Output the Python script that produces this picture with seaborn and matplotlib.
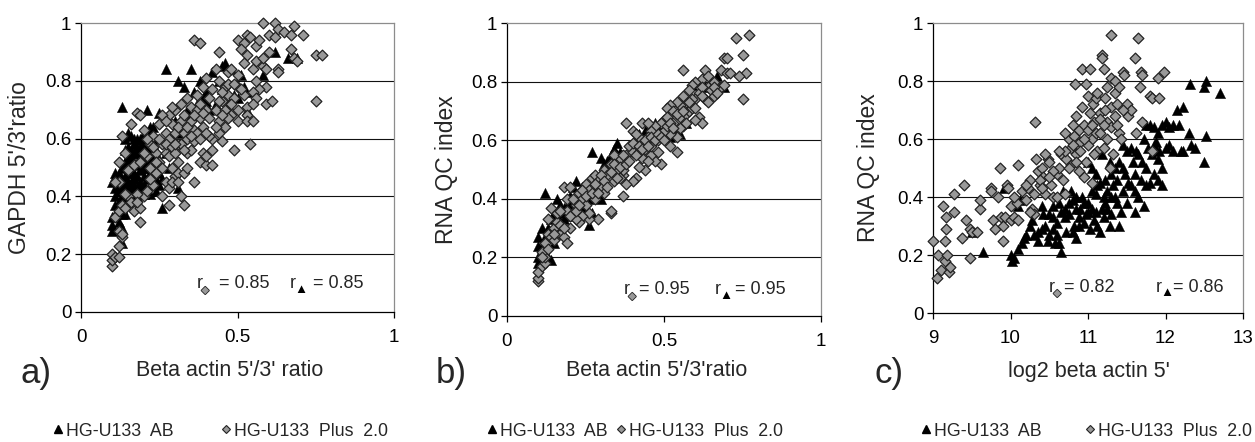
import matplotlib
matplotlib.use("Agg")
import matplotlib.pyplot as plt
import matplotlib.patheffects as pe
from matplotlib.lines import Line2D
import pandas as pd
import seaborn as sns

# --- data (x, y) ---
# a) Beta actin 5'/3' ratio vs GAPDH 5'/3' ratio
a_plus = [
    (0.10, 0.16), (0.10, 0.18), (0.10, 0.20), (0.11, 0.19), (0.12, 0.19), (0.12, 0.23), (0.13, 0.26),
    (0.12, 0.28), (0.13, 0.27), (0.11, 0.33), (0.12, 0.35), (0.13, 0.37), (0.14, 0.36), (0.15, 0.40),
    (0.14, 0.41), (0.16, 0.38), (0.17, 0.35), (0.19, 0.31), (0.19, 0.36), (0.20, 0.40), (0.18, 0.41),
    (0.21, 0.42), (0.12, 0.45), (0.11, 0.45), (0.12, 0.52), (0.13, 0.61), (0.14, 0.55), (0.16, 0.65),
    (0.18, 0.69), (0.19, 0.68), (0.15, 0.49), (0.17, 0.51), (0.19, 0.52),
    (0.21, 0.54), (0.22, 0.50), (0.23, 0.44), (0.24, 0.48), (0.22, 0.58), (0.23, 0.61),
    (0.24, 0.55), (0.25, 0.52), (0.26, 0.58), (0.27, 0.55), (0.27, 0.62), (0.28, 0.60), (0.28, 0.68),
    (0.29, 0.65), (0.30, 0.62), (0.30, 0.70), (0.31, 0.58), (0.32, 0.66), (0.32, 0.72), (0.33, 0.62),
    (0.33, 0.68), (0.34, 0.74), (0.34, 0.60), (0.35, 0.66), (0.35, 0.71), (0.36, 0.63), (0.37, 0.70),
    (0.37, 0.75), (0.38, 0.67), (0.38, 0.72), (0.39, 0.78), (0.39, 0.64), (0.40, 0.70), (0.40, 0.81),
    (0.41, 0.74), (0.41, 0.67), (0.42, 0.77), (0.43, 0.84), (0.43, 0.70), (0.44, 0.80), (0.44, 0.66),
    (0.45, 0.73), (0.46, 0.78), (0.46, 0.70), (0.47, 0.83), (0.47, 0.75), (0.48, 0.68), (0.26, 0.40),
    (0.27, 0.45), (0.28, 0.37), (0.30, 0.47), (0.31, 0.48), (0.29, 0.50), (0.31, 0.52), (0.32, 0.40),
    (0.33, 0.37), (0.33, 0.48), (0.34, 0.55), (0.36, 0.45), (0.36, 0.59), (0.37, 0.62), (0.38, 0.52),
    (0.39, 0.55), (0.40, 0.51), (0.40, 0.54), (0.42, 0.51), (0.42, 0.56), (0.42, 0.60), (0.44, 0.62),
    (0.45, 0.59), (0.46, 0.64), (0.47, 0.67), (0.45, 0.68), (0.49, 0.56), (0.50, 0.66), (0.36, 0.94),
    (0.38, 0.93), (0.44, 0.90), (0.48, 0.84), (0.50, 0.82), (0.47, 0.79), (0.50, 0.78), (0.49, 0.74),
    (0.52, 0.75), (0.50, 0.70), (0.53, 0.71), (0.53, 0.68), (0.53, 0.66), (0.54, 0.58), (0.50, 0.94),
    (0.52, 0.93), (0.51, 0.91), (0.53, 0.89), (0.52, 0.86), (0.55, 0.84), (0.58, 0.85), (0.59, 0.84),
    (0.56, 0.87), (0.53, 0.96), (0.54, 0.95), (0.56, 0.92), (0.57, 0.94), (0.58, 1.00), (0.60, 0.96),
    (0.62, 0.95), (0.62, 1.00), (0.63, 0.98), (0.65, 0.97), (0.68, 0.99), (0.67, 0.96), (0.71, 0.96),
    (0.67, 0.91), (0.68, 0.88), (0.69, 0.87), (0.63, 0.84), (0.63, 0.83), (0.59, 0.78), (0.56, 0.80),
    (0.57, 0.77), (0.55, 0.76), (0.56, 0.74), (0.55, 0.72), (0.59, 0.72), (0.61, 0.73), (0.75, 0.73),
    (0.75, 0.89), (0.77, 0.89), (0.60, 0.90), (0.58, 0.88), (0.55, 0.66), (0.21, 0.60), (0.20, 0.63),
    (0.25, 0.65), (0.26, 0.68), (0.29, 0.71), (0.31, 0.64), (0.35, 0.56), (0.41, 0.61),
    (0.22, 0.46), (0.24, 0.52), (0.26, 0.50), (0.27, 0.58), (0.28, 0.54), (0.29, 0.57), (0.30, 0.55),
    (0.32, 0.58), (0.33, 0.56), (0.34, 0.64), (0.36, 0.68), (0.38, 0.60), (0.39, 0.69), (0.40, 0.62),
    (0.43, 0.64), (0.44, 0.73), (0.45, 0.76), (0.48, 0.72), (0.49, 0.79), (0.51, 0.77),
    (0.20, 0.55), (0.23, 0.57), (0.25, 0.60), (0.27, 0.66), (0.18, 0.38),
    (0.30, 0.58), (0.35, 0.61), (0.28, 0.43), (0.29, 0.45), (0.31, 0.45), (0.34, 0.50),
]
a_ab = [
    (0.13, 0.71), (0.27, 0.84), (0.35, 0.84), (0.31, 0.80), (0.33, 0.78), (0.38, 0.80), (0.36, 0.76),
    (0.40, 0.76), (0.42, 0.83), (0.45, 0.85), (0.46, 0.86), (0.48, 0.84), (0.51, 0.82), (0.62, 0.90),
    (0.66, 0.88), (0.69, 0.88), (0.58, 0.82), (0.49, 0.75), (0.50, 0.74), (0.53, 0.70), (0.45, 0.77),
    (0.43, 0.72), (0.40, 0.73), (0.46, 0.69), (0.41, 0.70), (0.37, 0.72), (0.34, 0.70), (0.30, 0.66),
    (0.25, 0.69), (0.21, 0.70), (0.23, 0.64), (0.22, 0.62), (0.15, 0.62), (0.14, 0.60), (0.17, 0.58),
    (0.10, 0.45), (0.11, 0.48), (0.10, 0.33), (0.10, 0.30), (0.10, 0.28), (0.13, 0.29), (0.13, 0.24),
    (0.14, 0.34), (0.13, 0.34), (0.26, 0.36), (0.31, 0.43), (0.15, 0.45), (0.16, 0.50), (0.17, 0.55),
    (0.18, 0.47), (0.19, 0.52), (0.20, 0.44), (0.21, 0.50), (0.22, 0.56), (0.23, 0.47), (0.24, 0.42),
    (0.12, 0.42), (0.13, 0.40), (0.14, 0.44), (0.16, 0.41), (0.18, 0.40), (0.20, 0.58), (0.22, 0.52),
    (0.19, 0.43), (0.17, 0.48), (0.15, 0.52), (0.25, 0.44), (0.26, 0.46), (0.28, 0.50), (0.12, 0.38),
    (0.11, 0.40), (0.14, 0.38), (0.16, 0.56), (0.18, 0.60), (0.19, 0.57), (0.21, 0.46), (0.23, 0.53),
    (0.24, 0.60), (0.20, 0.50), (0.17, 0.44),
    (0.14, 0.47), (0.15, 0.40), (0.16, 0.45), (0.17, 0.52), (0.18, 0.55), (0.19, 0.49), (0.20, 0.53),
    (0.21, 0.57), (0.22, 0.44), (0.12, 0.35), (0.11, 0.37), (0.13, 0.46), (0.15, 0.57), (0.16, 0.61),
    (0.18, 0.51), (0.20, 0.62), (0.22, 0.64), (0.24, 0.50), (0.27, 0.55), (0.29, 0.60), (0.32, 0.62),
    (0.35, 0.68), (0.39, 0.74), (0.44, 0.80), (0.47, 0.72), (0.52, 0.78), (0.55, 0.76),
    (0.12, 0.44), (0.12, 0.48), (0.13, 0.50), (0.13, 0.43), (0.14, 0.52), (0.14, 0.56), (0.15, 0.48),
    (0.15, 0.54), (0.15, 0.38), (0.16, 0.43), (0.16, 0.53), (0.17, 0.46), (0.17, 0.40), (0.17, 0.60),
    (0.18, 0.43), (0.18, 0.57), (0.19, 0.45), (0.19, 0.54), (0.19, 0.60), (0.20, 0.47), (0.20, 0.41),
    (0.21, 0.52), (0.21, 0.59), (0.22, 0.48), (0.22, 0.41), (0.23, 0.50), (0.23, 0.58), (0.24, 0.46),
    (0.24, 0.55), (0.25, 0.48), (0.13, 0.36), (0.11, 0.43), (0.12, 0.31), (0.11, 0.34),
]

# b) Beta actin 5'/3' ratio vs RNA QC index
b_plus = [
    (0.77, 0.96), (0.73, 0.95), (0.75, 0.89), (0.69, 0.88), (0.70, 0.88), (0.76, 0.83), (0.74, 0.82),
    (0.75, 0.74), (0.68, 0.84), (0.70, 0.83), (0.71, 0.83), (0.68, 0.78), (0.69, 0.79), (0.56, 0.84),
    (0.63, 0.84), (0.62, 0.81), (0.64, 0.78), (0.65, 0.77), (0.60, 0.80), (0.59, 0.79), (0.61, 0.76),
    (0.60, 0.74), (0.63, 0.74), (0.58, 0.77), (0.57, 0.73), (0.56, 0.75), (0.55, 0.72), (0.54, 0.73),
    (0.52, 0.72), (0.51, 0.71), (0.53, 0.70), (0.55, 0.68), (0.57, 0.69), (0.58, 0.70), (0.59, 0.71),
    (0.61, 0.68), (0.62, 0.66), (0.60, 0.67), (0.56, 0.65), (0.55, 0.64), (0.54, 0.56), (0.54, 0.61),
    (0.52, 0.62), (0.50, 0.63), (0.50, 0.67), (0.49, 0.66), (0.47, 0.65), (0.46, 0.63), (0.45, 0.61),
    (0.43, 0.60), (0.42, 0.61), (0.41, 0.58), (0.49, 0.52), (0.47, 0.53), (0.46, 0.55), (0.43, 0.54),
    (0.44, 0.50), (0.42, 0.51), (0.41, 0.47), (0.40, 0.46), (0.38, 0.45), (0.37, 0.48), (0.37, 0.50),
    (0.38, 0.66), (0.40, 0.63), (0.37, 0.41), (0.33, 0.35), (0.33, 0.36), (0.29, 0.33), (0.26, 0.33),
    (0.26, 0.35), (0.24, 0.34), (0.23, 0.32), (0.10, 0.12), (0.10, 0.13), (0.10, 0.15), (0.11, 0.17),
    (0.12, 0.18), (0.12, 0.20), (0.11, 0.22), (0.12, 0.25), (0.13, 0.28), (0.14, 0.27), (0.15, 0.30),
    (0.16, 0.32), (0.17, 0.28), (0.18, 0.27), (0.19, 0.25), (0.13, 0.33), (0.14, 0.37), (0.18, 0.44),
    (0.20, 0.44), (0.19, 0.36), (0.20, 0.30), (0.21, 0.35), (0.22, 0.38), (0.23, 0.42), (0.24, 0.40),
    (0.25, 0.45), (0.26, 0.43), (0.27, 0.47), (0.28, 0.48), (0.29, 0.46), (0.30, 0.44), (0.31, 0.50),
    (0.32, 0.48), (0.33, 0.52), (0.34, 0.46), (0.35, 0.50), (0.36, 0.54), (0.34, 0.55), (0.38, 0.55),
    (0.39, 0.58), (0.40, 0.56), (0.42, 0.56), (0.44, 0.57), (0.46, 0.58), (0.48, 0.60), (0.51, 0.65),
    (0.53, 0.66), (0.57, 0.66), (0.64, 0.82), (0.66, 0.80), (0.62, 0.78), (0.66, 0.75), (0.48, 0.56),
    (0.45, 0.53), (0.36, 0.47), (0.31, 0.42), (0.28, 0.40), (0.25, 0.38), (0.22, 0.33), (0.17, 0.31),
    (0.15, 0.26), (0.52, 0.58), (0.59, 0.74),
    (0.11, 0.20), (0.13, 0.23), (0.15, 0.28), (0.16, 0.35), (0.17, 0.36), (0.18, 0.30), (0.19, 0.40),
    (0.20, 0.34), (0.21, 0.40), (0.22, 0.36), (0.23, 0.38), (0.24, 0.43), (0.25, 0.41), (0.27, 0.42),
    (0.28, 0.45), (0.29, 0.42), (0.30, 0.48), (0.31, 0.46), (0.32, 0.44), (0.33, 0.49), (0.34, 0.52),
    (0.35, 0.47), (0.36, 0.51), (0.37, 0.55), (0.38, 0.52), (0.39, 0.53), (0.40, 0.59), (0.41, 0.55),
    (0.42, 0.58), (0.43, 0.57), (0.44, 0.60), (0.45, 0.58), (0.46, 0.61), (0.47, 0.60), (0.48, 0.62),
    (0.49, 0.61), (0.50, 0.60), (0.51, 0.68), (0.52, 0.66), (0.53, 0.64), (0.54, 0.69), (0.56, 0.70),
    (0.58, 0.73), (0.60, 0.71), (0.62, 0.75), (0.64, 0.73), (0.66, 0.78), (0.67, 0.76), (0.41, 0.62),
    (0.43, 0.66), (0.45, 0.66),
]
b_ab = [
    (0.12, 0.42), (0.27, 0.56), (0.34, 0.57), (0.35, 0.59), (0.30, 0.54), (0.32, 0.53), (0.33, 0.55),
    (0.22, 0.46), (0.21, 0.44), (0.20, 0.41), (0.16, 0.40), (0.18, 0.37), (0.15, 0.35), (0.14, 0.33),
    (0.13, 0.30), (0.12, 0.27), (0.11, 0.30), (0.10, 0.27), (0.10, 0.24), (0.10, 0.20), (0.10, 0.18),
    (0.13, 0.20), (0.14, 0.19), (0.15, 0.25), (0.16, 0.29), (0.17, 0.32), (0.19, 0.34), (0.21, 0.36),
    (0.22, 0.38), (0.23, 0.34), (0.24, 0.36), (0.26, 0.40), (0.27, 0.35), (0.26, 0.31), (0.30, 0.40),
    (0.28, 0.42), (0.45, 0.64), (0.44, 0.63), (0.47, 0.66), (0.48, 0.64), (0.50, 0.64), (0.51, 0.62),
    (0.52, 0.61), (0.46, 0.60), (0.61, 0.80), (0.59, 0.79), (0.65, 0.80), (0.69, 0.78), (0.61, 0.76),
    (0.18, 0.33), (0.20, 0.37), (0.24, 0.44), (0.29, 0.47), (0.31, 0.52),
    (0.11, 0.24), (0.12, 0.22), (0.14, 0.28), (0.16, 0.34), (0.17, 0.38), (0.18, 0.35), (0.19, 0.38),
    (0.20, 0.38), (0.21, 0.40), (0.23, 0.41), (0.25, 0.37), (0.35, 0.55), (0.36, 0.56), (0.33, 0.51),
    (0.42, 0.62), (0.49, 0.66), (0.53, 0.64), (0.55, 0.62), (0.57, 0.66), (0.63, 0.78), (0.67, 0.82),
]

# c) log2 beta actin 5' vs RNA QC index
c_plus = [
    (9.00, 0.25), (9.05, 0.12), (9.07, 0.20), (9.10, 0.15), (9.13, 0.37), (9.15, 0.25), (9.17, 0.33),
    (9.17, 0.29), (9.15, 0.18), (9.18, 0.20), (9.20, 0.14), (9.22, 0.16), (9.27, 0.41), (9.27, 0.35),
    (9.40, 0.44), (9.42, 0.32), (9.38, 0.26), (9.48, 0.29), (9.50, 0.28), (9.48, 0.19), (9.57, 0.28),
    (9.60, 0.36), (9.60, 0.39), (9.75, 0.43), (9.75, 0.42), (9.78, 0.32), (9.80, 0.29), (9.84, 0.40),
    (9.87, 0.50), (9.88, 0.33), (9.90, 0.30), (9.90, 0.25), (9.93, 0.33), (9.95, 0.44), (9.97, 0.43),
    (10.00, 0.37), (10.00, 0.32), (10.05, 0.33), (10.08, 0.38), (10.10, 0.51), (10.15, 0.42),
    (10.20, 0.39), (10.22, 0.43), (10.25, 0.46), (10.28, 0.36), (10.30, 0.34), (10.33, 0.53),
    (10.32, 0.66), (10.35, 0.49), (10.38, 0.44), (10.40, 0.50), (10.42, 0.47), (10.45, 0.41),
    (10.48, 0.53), (10.50, 0.52), (10.55, 0.40), (10.60, 0.48), (10.62, 0.50), (10.65, 0.55),
    (10.68, 0.46), (10.70, 0.41), (10.72, 0.53), (10.75, 0.60), (10.78, 0.57), (10.80, 0.65),
    (10.82, 0.61), (10.85, 0.55), (10.88, 0.63), (10.90, 0.59), (10.92, 0.71), (10.95, 0.65),
    (10.83, 0.79), (10.92, 0.84), (10.97, 0.79), (11.02, 0.84), (11.00, 0.75), (11.05, 0.60),
    (11.07, 0.72), (11.08, 0.66), (11.10, 0.74), (11.12, 0.76), (11.15, 0.69), (11.18, 0.89),
    (11.18, 0.88), (11.20, 0.84), (11.22, 0.74), (11.25, 0.66), (11.30, 0.81), (11.30, 0.96),
    (11.30, 0.71), (11.35, 0.76), (11.35, 0.80), (11.38, 0.72), (11.40, 0.78), (11.40, 0.62),
    (11.45, 0.83), (11.47, 0.82), (11.50, 0.72), (11.52, 0.68), (11.55, 0.70), (11.60, 0.88),
    (11.62, 0.62), (11.65, 0.95), (11.67, 0.78), (11.68, 0.83), (11.70, 0.82), (11.80, 0.75),
    (11.82, 0.74), (11.90, 0.81), (11.92, 0.74), (11.98, 0.83), (11.70, 0.66), (11.82, 0.56),
    (11.10, 0.62), (11.00, 0.58), (10.95, 0.47), (11.05, 0.45), (10.98, 0.52), (11.12, 0.56),
    (11.20, 0.57), (11.25, 0.60), (11.30, 0.64), (11.42, 0.60), (10.60, 0.40), (10.52, 0.44),
    (10.30, 0.41), (10.25, 0.35), (10.10, 0.32), (10.05, 0.40), (10.38, 0.46), (11.28, 0.50),
    (11.32, 0.55), (10.20, 0.44), (10.45, 0.55), (10.55, 0.49), (10.70, 0.56), (10.85, 0.68),
    (11.02, 0.69), (11.15, 0.67), (11.22, 0.70), (10.88, 0.49), (10.78, 0.51),
    (10.90, 0.56), (10.95, 0.60), (11.00, 0.63), (11.05, 0.65), (11.08, 0.55), (11.15, 0.62),
    (11.20, 0.65), (10.85, 0.52), (10.75, 0.50), (10.80, 0.58), (10.70, 0.62), (10.62, 0.56),
    (10.50, 0.47), (10.40, 0.43), (11.25, 0.78), (11.35, 0.68), (11.45, 0.70), (11.38, 0.65),
]
c_ab = [
    (12.70, 0.76), (12.52, 0.80), (12.50, 0.78), (12.32, 0.79), (12.22, 0.71), (12.15, 0.70),
    (12.52, 0.61), (12.50, 0.52), (12.30, 0.62), (12.33, 0.58), (12.38, 0.57), (12.20, 0.56),
    (12.10, 0.56), (12.22, 0.56), (12.10, 0.65), (12.18, 0.65), (12.00, 0.66), (12.05, 0.64),
    (11.95, 0.65), (11.90, 0.62), (11.85, 0.64), (11.80, 0.65), (11.75, 0.65), (11.72, 0.60),
    (11.78, 0.57), (11.82, 0.55), (11.90, 0.53), (11.95, 0.50), (11.85, 0.48), (11.80, 0.45),
    (11.75, 0.44), (11.72, 0.37), (11.65, 0.40), (11.60, 0.48), (11.58, 0.52), (11.50, 0.56),
    (11.45, 0.58), (11.52, 0.45), (11.45, 0.42), (11.42, 0.35), (11.38, 0.38), (11.35, 0.50),
    (11.30, 0.48), (11.28, 0.52), (11.25, 0.42), (11.20, 0.40), (11.15, 0.45), (11.10, 0.48),
    (11.05, 0.50), (11.00, 0.52), (11.18, 0.55), (11.20, 0.33), (11.28, 0.30), (11.30, 0.34),
    (11.15, 0.28), (11.10, 0.35), (11.00, 0.38), (11.05, 0.36), (10.98, 0.34), (10.92, 0.40),
    (10.88, 0.33), (10.85, 0.36), (10.82, 0.30), (10.78, 0.42), (10.75, 0.38), (10.70, 0.33),
    (10.65, 0.35), (10.60, 0.31), (10.60, 0.27), (10.55, 0.29), (10.50, 0.27), (10.48, 0.25),
    (10.45, 0.30), (10.42, 0.34), (10.35, 0.28), (10.30, 0.27), (10.28, 0.32), (10.20, 0.27),
    (10.15, 0.24), (10.18, 0.26), (10.10, 0.22), (10.05, 0.19), (10.00, 0.20), (10.02, 0.18),
    (10.65, 0.21), (10.62, 0.24), (10.80, 0.28), (10.85, 0.26), (9.65, 0.21), (9.50, 0.28),
    (9.92, 0.43), (10.10, 0.37), (10.12, 0.39), (10.40, 0.37), (10.50, 0.34), (10.55, 0.33),
    (10.68, 0.42), (11.12, 0.30), (11.22, 0.38), (11.35, 0.40), (11.40, 0.30), (11.50, 0.38),
    (11.60, 0.35), (11.55, 0.57), (11.65, 0.55), (11.70, 0.52), (11.88, 0.59), (12.00, 0.57),
    (11.95, 0.44), (11.90, 0.46),
    (10.55, 0.37), (10.62, 0.38), (10.70, 0.36), (10.75, 0.34), (10.80, 0.39), (10.85, 0.40),
    (10.90, 0.36), (10.95, 0.38), (11.00, 0.35), (11.05, 0.42), (11.10, 0.41), (11.12, 0.44),
    (11.18, 0.36), (11.22, 0.46), (11.25, 0.36), (11.30, 0.40), (11.32, 0.44), (11.38, 0.46),
    (11.40, 0.52), (11.45, 0.50), (11.48, 0.48), (11.55, 0.44), (11.60, 0.42), (11.62, 0.56),
    (11.68, 0.46), (11.75, 0.50), (11.85, 0.58), (11.92, 0.56), (12.05, 0.58), (10.88, 0.30),
    (10.95, 0.31), (10.72, 0.28), (10.40, 0.29), (10.25, 0.30), (10.58, 0.24), (10.35, 0.25),
    (11.08, 0.32), (11.02, 0.29),
]

panel_letters = ["a)", "b)", "c)"]
x_labels = ["Beta actin 5'/3' ratio", "Beta actin 5'/3'ratio", "log2 beta actin 5'"]
y_labels = ["GAPDH 5'/3'ratio", "RNA QC index", "RNA QC index"]
x_ticks = [[0, 0.5, 1], [0, 0.5, 1], [9, 10, 11, 12, 13]]
x_ticklabels = [["0", "0.5", "1"], ["0", "0.5", "1"], ["9", "10", "11", "12", "13"]]
y_ticks = [0, 0.2, 0.4, 0.6, 0.8, 1]
y_ticklabels = ["0", "0.2", "0.4", "0.6", "0.8", "1"]
r_plus = ["0.85", "0.95", "0.82"]
r_ab = ["0.85", "0.95", "0.86"]
series_names = ["HG-U133  AB", "HG-U133  Plus  2.0"]

W, H = 1255, 442
sns.set_theme(style="ticks")
plt.rcParams["font.family"] = ["Liberation Sans", "DejaVu Sans"]

fig = plt.figure(figsize=(W / 100, H / 100), dpi=100)

# axes boxes in pixels: left, top, right, bottom
boxes = [(81, 23, 394, 312), (507, 23, 821, 316), (933, 23, 1243, 313)]
ylabel_x = [20, 447, 868]
letter_x = [21, 436, 874]
xlabel_cx = [230, 657, 1089]
legend_tri_x = [58, 492, 926]
legend_dia_x = [226, 621, 1090]
r_pos = [(197, 219, 290, 313, 284), (624, 639, 715, 735, 290), (1049, 1064, 1156, 1173, 287)]

def fx(x):
    return x / W

def fy(y):
    return 1 - y / H

GRAY = "#999999"
EDGE = "#222222"
tri_kw = dict(marker="^", s=55, color="black", edgecolor="black", linewidth=0.3, clip_on=False)
dia_kw = dict(marker="D", s=30, color=GRAY, edgecolor=EDGE, linewidth=0.9, clip_on=False)

data = [(a_ab, a_plus), (b_ab, b_plus), (c_ab, c_plus)]
for i, (ab, plus) in enumerate(data):
    l, t, r, b = boxes[i]
    ax = fig.add_axes([fx(l), fy(b), (r - l) / W, (b - t) / H])
    df_ab = pd.DataFrame(ab, columns=["x", "y"])
    df_plus = pd.DataFrame(plus, columns=["x", "y"])
    sns.scatterplot(data=df_ab, x="x", y="y", ax=ax, legend=False, zorder=3, **tri_kw)
    sns.scatterplot(data=df_plus, x="x", y="y", ax=ax, legend=False, zorder=4, **dia_kw)

    ax.set_xlim(x_ticks[i][0], x_ticks[i][-1])
    ax.set_ylim(0, 1)
    ax.set_xticks(x_ticks[i])
    ax.set_xticklabels(x_ticklabels[i])
    ax.set_yticks(y_ticks)
    ax.set_yticklabels(y_ticklabels)
    ax.set_xlabel("")
    ax.set_ylabel("")
    for yv in y_ticks[1:-1]:
        ax.axhline(yv, color="#111111", lw=0.8, zorder=1)
    for side in ["left", "bottom"]:
        ax.spines[side].set_color("black")
        ax.spines[side].set_linewidth(0.9)
    for side in ["top", "right"]:
        ax.spines[side].set_visible(True)
        ax.spines[side].set_color("#8c8c8c")
        ax.spines[side].set_linewidth(0.9)
    ax.tick_params(axis="both", direction="out", length=4, width=0.9, color="black",
                   labelsize=13.5, labelcolor="black")
    ax.tick_params(axis="x", pad=8)
    ax.tick_params(axis="y", pad=3)
    ax.tick_params(top=False, right=False)

    # outer labels
    fig.text(fx(ylabel_x[i]), fy((t + b) / 2), y_labels[i], rotation=90,
             ha="center", va="center", fontsize=16.5)
    fig.text(fx(xlabel_cx[i]), fy(371), x_labels[i], ha="center", va="center", fontsize=15.5)
    fig.text(fx(letter_x[i]), fy(373), panel_letters[i], ha="left", va="center", fontsize=25)

    # correlation annotations
    r1, e1, r2, e2, ry = r_pos[i]
    fig.text(fx(r1), fy(ry), "r", ha="left", va="center", fontsize=13)
    fig.text(fx(r1 + 4.5), fy(ry + 6), "\u25c6", ha="left", va="center", fontsize=7, color=GRAY,
             path_effects=[pe.Stroke(linewidth=1.2, foreground=EDGE), pe.Normal()])
    fig.text(fx(e1), fy(ry), "= " + r_plus[i], ha="left", va="center", fontsize=13)
    fig.text(fx(r2), fy(ry), "r", ha="left", va="center", fontsize=13)
    fig.text(fx(r2 + 4.5), fy(ry + 6), "\u25b2", ha="left", va="center", fontsize=9.5, color="black")
    fig.text(fx(e2), fy(ry), "= " + r_ab[i], ha="left", va="center", fontsize=13)

    # legend below each panel
    h_tri = Line2D([], [], ls="none", marker="^", ms=6, color="black")
    h_dia = Line2D([], [], ls="none", marker="D", ms=4.2, markerfacecolor=GRAY,
                   markeredgecolor=EDGE, markeredgewidth=0.8)
    for hx, hnd, lab in [(legend_tri_x[i], h_tri, series_names[0]),
                         (legend_dia_x[i], h_dia, series_names[1])]:
        fig.legend(handles=[hnd], labels=[lab], loc="center left",
                   bbox_to_anchor=(fx(hx - 4.5), fy(431)), frameon=False, fontsize=12.8,
                   handlelength=0.5, handletextpad=0.2, borderpad=0, borderaxespad=0)

fig.savefig("out.png", dpi=100, facecolor="white")
